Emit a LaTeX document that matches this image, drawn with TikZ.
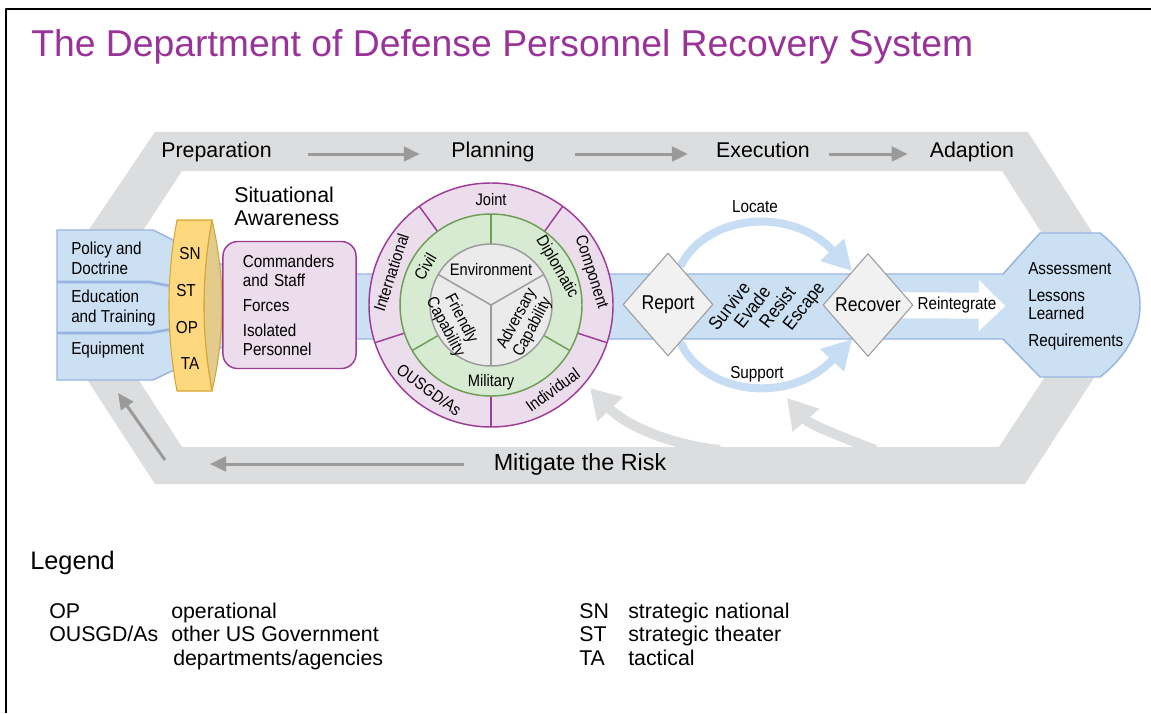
\documentclass[tikz,border=0pt]{standalone}
\usepackage{fontspec}
\setmainfont{Liberation Sans}
\newfontfamily\narrowfont[FakeStretch=0.88]{Liberation Sans}
\usetikzlibrary{arrows.meta,shapes.geometric}
\definecolor{titlepurple}{RGB}{153,51,153}
\definecolor{bandgray}{RGB}{220,221,223}
\definecolor{bandline}{RGB}{154,154,154}
\definecolor{bluefill}{RGB}{204,224,244}
\definecolor{blueedge}{RGB}{151,181,224}
\definecolor{arcblue}{RGB}{198,221,243}
\definecolor{ringfill}{RGB}{235,221,236}
\definecolor{ringedge}{RGB}{158,60,151}
\definecolor{greenfill}{RGB}{215,235,210}
\definecolor{greenedge}{RGB}{110,158,85}
\definecolor{corefill}{RGB}{235,235,236}
\definecolor{coreedge}{RGB}{155,155,155}
\definecolor{diafill}{RGB}{241,241,241}
\definecolor{diaedge}{RGB}{156,156,156}
\definecolor{ringyellow}{RGB}{253,216,126}
\definecolor{ringtan}{RGB}{227,203,140}
\definecolor{ringgold}{RGB}{214,166,53}
\pgfdeclarelayer{under}
\pgfsetlayers{under,main}
\tikzset{
  stage/.style={font=\fontsize{16}{19}\selectfont, inner sep=0pt, text height=0.75em, text depth=0.2em},
  lbl/.style={font=\narrowfont\fontsize{13}{15}\selectfont, inner sep=0pt, align=left},
  ringlbl/.style={font=\narrowfont\fontsize{12.5}{13.5}\selectfont, inner sep=0pt, align=center},
  leg/.style={font=\fontsize{16}{19}\selectfont, inner sep=0pt, anchor=base west},
  bandarrow/.style={draw=bandline, line width=2.25pt, -{Triangle[length=12pt,width=11pt]}},
  bluearc/.style={draw=arcblue, line width=6pt, -{Triangle[length=22pt,width=23pt]}},
  mitarc/.style={draw=bandgray, line width=7.5pt, -{Triangle[length=22pt,width=25pt]}},
  dia/.style={diamond, draw=diaedge, fill=diafill, line width=0.8pt, minimum width=67.5pt,
    minimum height=77.25pt, inner sep=0pt, font=\narrowfont\fontsize{15}{17}\selectfont},
  cmdbox/.style={draw=ringedge, fill=ringfill, line width=1.1pt, rounded corners=11pt,
    minimum width=99.75pt, minimum height=95.25pt, text width=70pt, inner xsep=14.9pt,
    inner ysep=0pt, align=left, font=\narrowfont\fontsize{13}{14.25}\selectfont},
}
\begin{document}
\begin{tikzpicture}[x=0.75pt,y=0.75pt,line join=round]
\useasboundingbox (0,0) rectangle (1151,-713);

% frame and title
\draw[line width=1.5pt] (6,-713) -- (6,-9) -- (1151,-9);
\node[font=\fontsize{28}{32}\selectfont, text=titlepurple, inner sep=0pt, anchor=base west] (title) at (31,-57)
  {The Department of Defense Personnel Recovery System};

% phases
\node[stage] (prep) at (216.5,-154) {Preparation};
\node[stage] (plan) at (493,-154) {Planning};
\node[stage] (exec) at (763,-154) {Execution};
\node[stage] (adapt) at (972,-154) {Adaption};
\node[font=\fontsize{17.5}{20}\selectfont, inner sep=0pt] (mitig) at (580,-464) {Mitigate the Risk};
\coordinate (mitend) at (210,-464);
\coordinate (backlow) at (165,-460);
\coordinate (backup) at (118,-393);

% left column
\node[lbl, anchor=west] (policy) at (71,-258) {Policy and\\Doctrine};
\node[lbl, anchor=west] (edu) at (71,-308) {Education\\and Training};
\node[lbl, anchor=west] (equip) at (71,-350) {Equipment};

\draw[ringgold, fill=ringtan, line width=0.8pt] (212,-220) .. controls (225.3,-277) and (225.3,-334) .. (212,-391)
  .. controls (201.3,-334) and (201.3,-277) .. cycle;
\draw[ringgold, fill=ringyellow, line width=0.8pt] (177,-220) -- (212,-220) .. controls (201.3,-277) and (201.3,-334) .. (212,-391)
  -- (177,-391) .. controls (166.3,-334) and (166.3,-277) .. cycle;
\node[lbl] (sn) at (190,-254) {SN};
\node[lbl] (st) at (186,-291) {ST};
\node[lbl] (op) at (187,-328) {OP};
\node[lbl] (ta) at (190,-364) {TA};

\node[font=\fontsize{16}{17.25}\selectfont, inner sep=0pt, align=left, anchor=west] (sitaw) at (234,-206)
  {Situational\\Awareness};
\node[cmdbox] (cmd) at (289.5,-305) {Commanders\\and Staff\\[4.5pt]Forces\\[4.5pt]Isolated\\Personnel};

% circle
\begin{scope}[shift={(491,-305)}]
  \fill[ringfill] (0,0) circle (122);
  \fill[greenfill] (0,0) circle (91);
  \foreach \a in {54,126,198,270,342}
    \draw[ringedge, line width=1.1pt] (\a:91) -- (\a:122);
  \draw[ringedge, line width=1.1pt] (0,0) circle (122);
  \fill[corefill] (0,0) circle (61);
  \foreach \a in {90,210,330}
    \draw[greenedge, line width=1.1pt] (\a:61) -- (\a:91);
  \draw[greenedge, line width=1.1pt] (0,0) circle (91);
  \foreach \a in {30,150,270}
    \draw[coreedge, line width=1.1pt] (0,0) -- (\a:61);
  \draw[coreedge, line width=1.1pt] (0,0) circle (61);
  \node[ringlbl] (joint) at (90:105) {Joint};
  \node[ringlbl, rotate=72] (intl) at (162:105) {International};
  \node[ringlbl, rotate=-36] (ousgd) at (234:105) {OUSGD/As};
  \node[ringlbl, rotate=36] (indiv) at (306:105) {Individual};
  \node[ringlbl, rotate=-72] (comp) at (18:105) {Component};
  \node[ringlbl, rotate=60] (civil) at (150:76) {Civil};
  \node[ringlbl, rotate=-60] (dipl) at (30:76) {Diplomatic};
  \node[ringlbl] (milit) at (270:77) {Military};
  \node[ringlbl] (env) at (90:35) {Environment};
  \node[ringlbl, rotate=-62] (friend) at (-38,-18) {Friendly\\Capability};
  \node[ringlbl, rotate=62] (adver) at (34,-18) {Adversary\\Capability};
\end{scope}

% execution
\node[dia] (report) at (668,-304.5) {Report};
\node[dia] (recover) at (868,-305) {Recover};
\node[lbl] (locate) at (755,-207) {Locate};
\node[lbl] (support) at (757,-374) {Support};
\node[lbl, font=\narrowfont\fontsize{14}{15}\selectfont, rotate=52] (survive) at (729,-306) {Survive};
\node[lbl, font=\narrowfont\fontsize{14}{15}\selectfont, rotate=52] (evade) at (752,-307) {Evade};
\node[lbl, font=\narrowfont\fontsize{14}{15}\selectfont, rotate=52] (resist) at (777,-307) {Resist};
\node[lbl, font=\narrowfont\fontsize{14}{15}\selectfont, rotate=52] (escape) at (805,-307) {Escape};
\node[lbl] (reint) at (957,-305) {Reintegrate};
\node[lbl, font=\narrowfont\fontsize{13}{13.5}\selectfont, anchor=west] (review) at (1028,-306)
  {Assessment\\[6.75pt]Lessons\\Learned\\[6.75pt]Requirements};

\coordinate (riskl) at (720,-450);
\coordinate (riskltip) at (590,-388);
\coordinate (riskr) at (875,-450);
\coordinate (riskrtip) at (787,-398);

\begin{pgfonlayer}{under}
  \fill[white] (0,0) rectangle (1151,-713);
  \fill[bandgray, even odd rule] (155,-132) -- (1028,-132) -- (1140,-307) -- (1025,-484) -- (155,-484)
    -- (88,-381) -- (88,-231) -- cycle
    (182,-171) -- (1002,-171) -- (1090,-308) -- (999,-447) -- (182,-447) -- (92,-308) -- cycle;
  \draw[bandarrow, shorten <=27pt, shorten >=23.6pt] (prep) -- (plan);
  \draw[bandarrow, shorten <=30.4pt, shorten >=21pt] (plan) -- (exec);
  \draw[bandarrow, shorten <=14pt, shorten >=16.5pt] (exec) -- (adapt);
  \draw[bandarrow, shorten <=22pt] (mitig) -- (mitend);
  \draw[bandarrow] (backlow) -- (backup);
  \draw[mitarc] (riskl) .. controls (670,-445) and (625,-425) .. (riskltip);
  \draw[mitarc] (riskr) .. controls (850,-440) and (810,-425) .. (riskrtip);
  % blue
  \draw[blueedge, fill=bluefill, line width=1.1pt] (57,-230) -- (153,-230) -- (230,-268.5) -- (230,-343.5)
    -- (153,-380) -- (57,-380) -- cycle;
  \draw[blueedge, line width=2pt] (57,-282) -- (150,-282) -- (230,-298.5);
  \draw[blueedge, line width=2pt] (57,-333) -- (150,-333) -- (230,-318.5);
  \draw[blueedge, fill=bluefill, line width=1.1pt] (340,-274) -- (1003,-274) -- (1040,-233) -- (1100,-233)
    .. controls (1128,-255) and (1140,-280) .. (1140,-305) .. controls (1140,-330) and (1128,-355) .. (1100,-377)
    -- (1040,-377) -- (1003,-339) -- (340,-339) -- cycle;
  \draw[bluearc] (report.72) .. controls (705,-215) and (790,-205) .. (recover.115);
  \draw[bluearc] (report.-72) .. controls (705,-395) and (790,-405) .. (recover.-115);
  \draw[white, line width=19.5pt, -{Triangle[length=20pt,width=37.5pt]}, shorten >=17pt] (recover.center) -- (review.west);
\end{pgfonlayer}

% legend
\node[font=\fontsize{19}{22}\selectfont, inner sep=0pt, anchor=base west] (legend) at (30,-569) {Legend};
\node[leg] (kop) at (49,-618) {OP};
\node[leg] (vop) at (171,-618) {operational};
\node[leg] (kous) at (49,-641) {OUSGD/As};
\node[leg] (vous) at (171,-641) {other US Government};
\node[leg] (vous2) at (173,-665) {departments/agencies};
\node[leg] (ksn) at (579,-618) {SN};
\node[leg] (vsn) at (628,-618) {strategic national};
\node[leg] (kst) at (579,-641) {ST};
\node[leg] (vst) at (628,-641) {strategic theater};
\node[leg] (kta) at (579,-665) {TA};
\node[leg] (vta) at (628,-665) {tactical};
\end{tikzpicture}
\end{document}
